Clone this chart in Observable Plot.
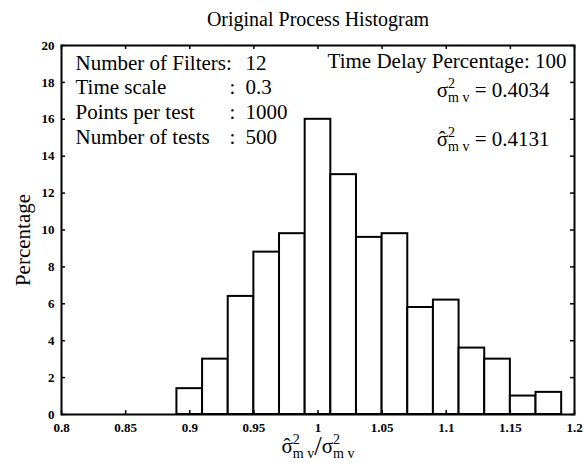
<!DOCTYPE html>
<html>
<head>
<meta charset="utf-8">
<script src="https://cdn.jsdelivr.net/npm/d3@7"></script>
<script src="https://cdn.jsdelivr.net/npm/@observablehq/plot@0.6"></script>
<style>
  html, body { margin: 0; padding: 0; background: #fff; }
  #chart svg { display: block; font-family: "Liberation Serif", "Times New Roman", serif; }
</style>
</head>
<body>
<div id="chart"></div>
<script>
// ---------- data ----------
const binEdges = [0.89, 0.91, 0.93, 0.95, 0.97, 0.99, 1.01, 1.03, 1.05, 1.07, 1.09, 1.11, 1.13, 1.15, 1.17, 1.19];
const percentages = [1.4, 3.0, 6.4, 8.8, 9.8, 16.0, 13.0, 9.6, 9.8, 5.8, 6.2, 3.6, 3.0, 1.0, 1.2];
const xTicks = [0.8, 0.85, 0.9, 0.95, 1.0, 1.05, 1.1, 1.15, 1.2];
const xTickLabels = ["0.8", "0.85", "0.9", "0.95", "1", "1.05", "1.1", "1.15", "1.2"];
const yTicks = [0, 2, 4, 6, 8, 10, 12, 14, 16, 18, 20];
const yTickLabels = ["0", "2", "4", "6", "8", "10", "12", "14", "16", "18", "20"];
const titleText = "Original Process Histogram";
const yLabelText = "Percentage";
const infoLabels = ["Number of Filters:", "Time scale", "Points per test", "Number of tests"];
const infoSeparators = ["", ":", ":", ":"];
const infoValues = ["12", "0.3", "1000", "500"];
const delayText = "Time Delay Percentage: 100";
const sigmaTrueValue = "0.4034";
const sigmaEstValue = "0.4131";

const bins = percentages.map((p, i) => ({x1: binEdges[i], x2: binEdges[i + 1], y: p}));

// ---------- layout ----------
const W = 584, H = 463;
const mL = 61, mR = 10, mT = 45, mB = 49;
const fw = W - mL - mR, fh = H - mT - mB;
const tick = 4;
const fs = 21;

// placeholders replaced below by rich text with super/subscripts
const PH_TRUE = "\u00A7sigmaTrue", PH_EST = "\u00A7sigmaEst", PH_XL = "\u00A7xLabel";

const marks = [
  Plot.rectY(bins, {x1: "x1", x2: "x2", y: "y", fill: "white", stroke: "black", strokeWidth: 2}),
  // inward ticks on four sides
  Plot.tickX(xTicks, {x: d => d, insetTop: fh - tick, stroke: "black", strokeWidth: 1.5}),
  Plot.tickX(xTicks, {x: d => d, insetBottom: fh - tick, stroke: "black", strokeWidth: 1.5}),
  Plot.tickY(yTicks, {y: d => d, insetRight: fw - tick, stroke: "black", strokeWidth: 1.5}),
  Plot.tickY(yTicks, {y: d => d, insetLeft: fw - tick, stroke: "black", strokeWidth: 1.5}),
  Plot.frame({stroke: "black", strokeWidth: 2}),
  Plot.axisX({ticks: xTicks, tickSize: 0, tickPadding: 8, tickFormat: d => xTickLabels[xTicks.indexOf(d)],
    fontWeight: "bold", fontSize: 13, label: null}),
  Plot.axisY({ticks: yTicks, tickSize: 0, tickPadding: 7, tickFormat: d => yTickLabels[yTicks.indexOf(d)],
    fontWeight: "bold", fontSize: 13, label: null}),
  Plot.text([titleText], {text: d => d, frameAnchor: "top", lineAnchor: "bottom", dy: -20, fontSize: 20}),
  Plot.text([yLabelText], {text: d => d, frameAnchor: "left", textAnchor: "middle", rotate: -90, dx: -38, dy: 10, fontSize: fs}),
  Plot.text([delayText], {text: d => d, frameAnchor: "top-right", textAnchor: "end", lineAnchor: "bottom", dx: -8, dy: 22, fontSize: fs}),
  Plot.text([PH_TRUE], {text: d => d, frameAnchor: "top-right", textAnchor: "end", lineAnchor: "bottom", dx: -25, dy: 51, fontSize: fs}),
  Plot.text([PH_EST], {text: d => d, frameAnchor: "top-right", textAnchor: "end", lineAnchor: "bottom", dx: -25, dy: 100, fontSize: fs}),
  Plot.text([PH_XL], {text: d => d, frameAnchor: "bottom", textAnchor: "middle", lineAnchor: "bottom", dy: 38, fontSize: fs})
];
infoLabels.forEach((s, i) => {
  const dy = 24 + i * 24.8;
  marks.push(Plot.text([s], {text: d => d, frameAnchor: "top-left", textAnchor: "start", lineAnchor: "bottom", dx: 14, dy, fontSize: fs}));
  if (infoSeparators[i]) marks.push(Plot.text([infoSeparators[i]], {text: d => d, frameAnchor: "top-left", textAnchor: "start", lineAnchor: "bottom", dx: 168, dy, fontSize: fs}));
  marks.push(Plot.text([infoValues[i]], {text: d => d, frameAnchor: "top-left", textAnchor: "start", lineAnchor: "bottom", dx: 184, dy, fontSize: fs}));
});

const svg = Plot.plot({
  width: W, height: H,
  marginLeft: mL, marginRight: mR, marginTop: mT, marginBottom: mB,
  x: {domain: [0.8, 1.2]},
  y: {domain: [0, 20]},
  style: {fontFamily: "Liberation Serif, serif", color: "black", background: "white", overflow: "visible"},
  marks
});
document.getElementById("chart").appendChild(svg);

// ---------- rich text (super/subscripts, hat) ----------
const NS = "http://www.w3.org/2000/svg";
// approximate advances (em) in Liberation Serif
const SIGMA_W = 0.55 * fs, HAT_W = 0.333 * fs;
function rich(placeholder, segs) {
  const t = Array.from(svg.querySelectorAll("text")).find(e => e.textContent === placeholder);
  if (!t) return;
  t.textContent = "";
  for (const s of segs) {
    const ts = document.createElementNS(NS, "tspan");
    ts.textContent = s.t;
    if (s.size) ts.setAttribute("font-size", s.size);
    if (s.dx) ts.setAttribute("dx", s.dx);
    if (s.dy) ts.setAttribute("dy", s.dy);
    t.appendChild(ts);
  }
}
function sigmaSegs(hat, startDy) {
  const back = (SIGMA_W + HAT_W) / 2;
  const fwd = (SIGMA_W - HAT_W) / 2;
  const segs = [{t: "σ", size: fs, dy: startDy || 0}];
  if (hat) segs.push({t: "\u02C6", size: fs, dx: -back});
  segs.push({t: "2", size: 14, dy: -9, dx: hat ? fwd : 0});
  segs.push({t: "m v", size: 14, dx: -7, dy: 14});
  return segs;
}
rich(PH_TRUE, [...sigmaSegs(false), {t: " = " + sigmaTrueValue, size: fs, dy: -5}]);
rich(PH_EST, [...sigmaSegs(true), {t: " = " + sigmaEstValue, size: fs, dy: -5}]);
rich(PH_XL, [...sigmaSegs(true), {t: "/", size: 27, dy: -3}, ...sigmaSegs(false, -2)]);
</script>
</body>
</html>
